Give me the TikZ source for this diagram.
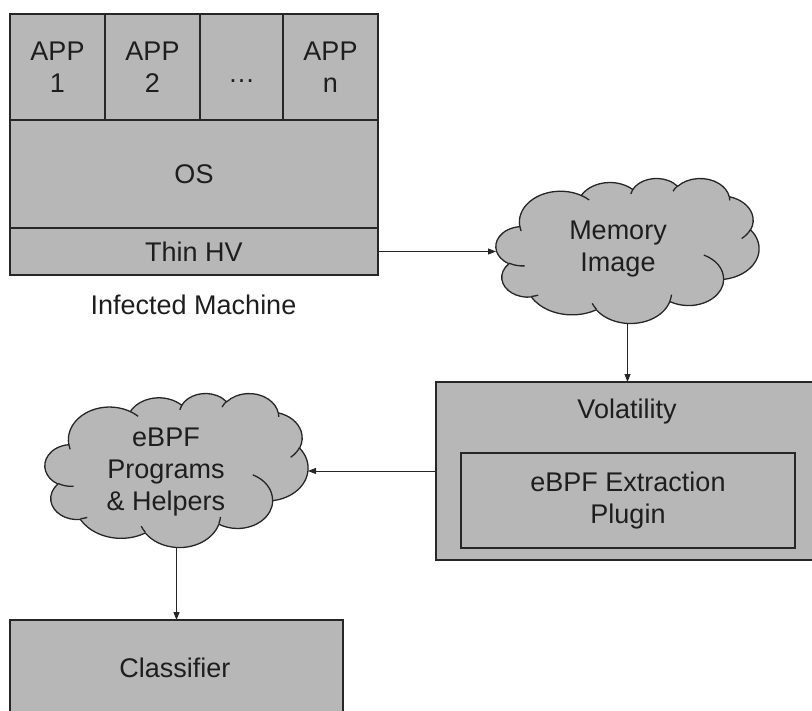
\documentclass[tikz,border=0pt]{standalone}
\usepackage{fontspec}
\setmainfont{Liberation Sans}
\usetikzlibrary{arrows.meta}
\definecolor{boxfill}{HTML}{B7B7B7}
\definecolor{edge}{HTML}{262626}
\definecolor{ink}{HTML}{1E1E1E}

% parametric angle of the point that lies at direction #1 on an ellipse with radii #2, #3
\pgfmathdeclarefunction{oot}{3}{%
  \begingroup
  \pgfmathparse{atan2(#2*sin(#1),#3*cos(#1))-(#1)}%
  \pgfmathparse{#1+\pgfmathresult-360*round(\pgfmathresult/360)}%
  \pgfmathsmuggle\pgfmathresult
  \endgroup}
% elliptical arc from the current point: radii, start direction, sweep
\newcommand\ooarc[4]{arc[x radius=#1,y radius=#2,start angle={oot(#3,#1,#2)},end angle={oot(#3+#4,#1,#2)}]}

% cloud outline in a 432 x 432 box, y pointing down
\newcommand\cloudoutline{%
  (39.00,143.70)
  \ooarc{67.53}{91.90}{-190.48748}{123.78053}
  \ooarc{53.33}{72.67}{-144.10238}{89.94523}
  \ooarc{43.65}{59.45}{-145.80792}{99.72302}
  \ooarc{48.57}{65.95}{-130.98607}{117.24173}
  \ooarc{53.33}{72.73}{-78.70888}{109.02692}
  \ooarc{67.75}{92.20}{-46.26725}{130.26900}
  \ooarc{57.85}{78.67}{0.62502}{114.03333}
  \ooarc{67.52}{92.15}{22.45160}{115.17255}
  \ooarc{77.20}{105.43}{66.24263}{75.71102}
  \ooarc{43.60}{59.18}{-274.94208}{146.73557}
  \ooarc{43.45}{59.45}{-246.82850}{152.51885}
  -- cycle}
% seams between the puffs
\newcommand\cloudseams{%
  (46.93,261.77) \ooarc{43.45}{59.45}{86.74200}{26.42950}
  (69.28,348.99) \ooarc{43.60}{59.18}{73.61047}{11.44747}
  (164.78,390.90) \ooarc{67.52}{92.15}{137.62415}{14.08110}
  (288.27,347.51) \ooarc{67.52}{92.15}{6.45327}{15.99835}
  (341.29,229.54) \ooarc{57.85}{78.67}{-70.29235}{70.91737}
  (417.98,153.54) \ooarc{53.33}{72.73}{30.31803}{27.75150}
  (383.24,54.26) \ooarc{48.57}{65.95}{-13.74433}{14.85890}
  (290.78,39.52) \ooarc{48.57}{65.95}{-149.18145}{18.19537}
  (221.41,47.20) \ooarc{43.65}{59.45}{-163.49427}{17.68635}
  (140.00,51.92) \ooarc{67.53}{91.90}{-66.70695}{12.31935}
  (41.27,157.89) \ooarc{67.53}{91.90}{157.65435}{11.85817}}

\begin{document}
\begin{tikzpicture}[x=1bp,y=-1bp,
  box/.style={draw=edge,fill=boxfill,line width=1.3bp,inner sep=0,outer sep=0},
  cloudframe/.style={inner sep=0,outer sep=0},
  cloudline/.style={draw=edge,line width=1.3bp,line join=round},
  lbl/.style={font=\fontsize{27bp}{32bp}\selectfont,text=ink,align=center,inner sep=0},
  flow/.style={draw=edge,line width=1bp,-{Triangle[length=8bp,width=6bp]}}
]
\useasboundingbox (0,0) rectangle (812,711);

% infected machine: application row, OS layer, thin hypervisor
\node[box,minimum width=95bp,minimum height=106bp] (app1) at (57.5,67) {};
\node[box,minimum width=95bp,minimum height=106bp] (app2) at (152.5,67) {};
\node[box,minimum width=83bp,minimum height=106bp] (app3) at (241.5,67) {};
\node[box,minimum width=95bp,minimum height=106bp] (app4) at (330.5,67) {};
\node[lbl] (t1) at (app1) {APP\\1};
\node[lbl] (t2) at (app2) {APP\\2};
\node[lbl] (t3) at (app3) {\mbox{}\\…};
\node[lbl] (t4) at (app4) {APP\\n};
\node[box,minimum width=368bp,minimum height=107bp] (os) at (194,174) {};
\node[lbl] (tos) at (os) {OS};
\node[box,minimum width=368bp,minimum height=47bp] (hv) at (194,251.5) {};
\node[lbl] (thv) at (hv) {Thin HV};
\node[lbl] (machine) at (193.5,305) {Infected Machine};

% memory image
\node[cloudframe,minimum width=263bp,minimum height=145bp] (mem) at (627.5,250.5) {};
\begin{scope}[shift={(mem.north west)},x=0.608796bp,y=-0.335648bp]
  \path[cloudline,fill=boxfill] \cloudoutline;
  \path[cloudline] \cloudseams;
\end{scope}
\node[lbl] (tmem) at (618,249) {Memory\\Image};

% volatility with the extraction plugin
\node[box,minimum width=382bp,minimum height=178bp] (vol) at (627,471) {};
\node[lbl] (tvol) at (627,412) {Volatility};
\node[box,minimum width=334bp,minimum height=95bp] (plug) at (628,500.5) {};
\node[lbl] (tplug) at (plug) {eBPF Extraction\\Plugin};

% extracted programs
\node[cloudframe,minimum width=263bp,minimum height=154bp] (ebpf) at (176.5,470) {};
\begin{scope}[shift={(ebpf.north west)},x=0.608796bp,y=-0.356481bp]
  \path[cloudline,fill=boxfill] \cloudoutline;
  \path[cloudline] \cloudseams;
\end{scope}
\node[lbl] (tebpf) at (166,472) {eBPF\\Programs\\\& Helpers};

% classifier
\node[box,minimum width=333bp,minimum height=120bp] (cls) at (176.5,680) {};
\node[lbl] (tcls) at (175,668) {Classifier};

% data flow
\draw[flow] (hv.east) -- (hv.east -| mem.west);
\draw[flow] (mem.south) -- (mem.south |- vol.north);
\draw[flow] (vol.west) -- (vol.west -| ebpf.east);
\draw[flow] (ebpf.south) -- (ebpf.south |- cls.north);
\end{tikzpicture}
\end{document}
